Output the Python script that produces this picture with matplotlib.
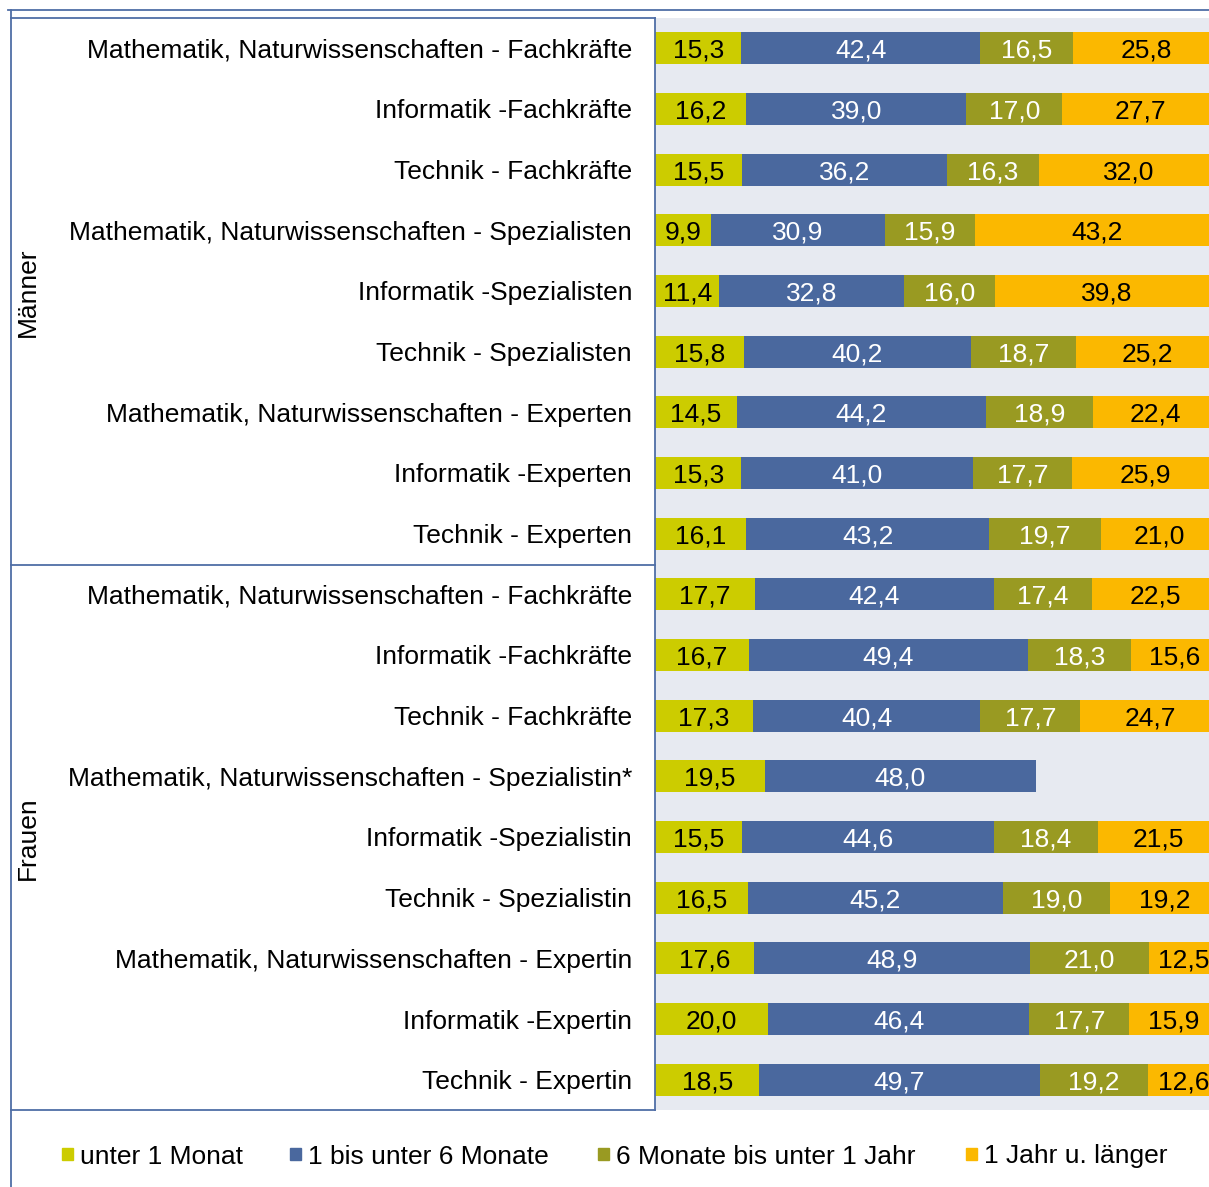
import numpy as np
import matplotlib.pyplot as plt
from matplotlib.patches import Rectangle
from matplotlib.lines import Line2D

plt.rcParams['font.family'] = ['Liberation Sans', 'DejaVu Sans']

categories = [
    "Mathematik, Naturwissenschaften - Fachkräfte",
    "Informatik -Fachkräfte",
    "Technik - Fachkräfte",
    "Mathematik, Naturwissenschaften - Spezialisten",
    "Informatik -Spezialisten",
    "Technik - Spezialisten",
    "Mathematik, Naturwissenschaften - Experten",
    "Informatik -Experten",
    "Technik - Experten",
    "Mathematik, Naturwissenschaften - Fachkräfte",
    "Informatik -Fachkräfte",
    "Technik - Fachkräfte",
    "Mathematik, Naturwissenschaften - Spezialistin*",
    "Informatik -Spezialistin",
    "Technik - Spezialistin",
    "Mathematik, Naturwissenschaften - Expertin",
    "Informatik -Expertin",
    "Technik - Expertin",
]
groups = ["Männer", "Frauen"]

unter_1_monat = [15.3, 16.2, 15.5, 9.9, 11.4, 15.8, 14.5, 15.3, 16.1,
                 17.7, 16.7, 17.3, 19.5, 15.5, 16.5, 17.6, 20.0, 18.5]
bis_6_monate = [42.4, 39.0, 36.2, 30.9, 32.8, 40.2, 44.2, 41.0, 43.2,
                42.4, 49.4, 40.4, 48.0, 44.6, 45.2, 48.9, 46.4, 49.7]
bis_1_jahr = [16.5, 17.0, 16.3, 15.9, 16.0, 18.7, 18.9, 17.7, 19.7,
              17.4, 18.3, 17.7, np.nan, 18.4, 19.0, 21.0, 17.7, 19.2]
jahr_laenger = [25.8, 27.7, 32.0, 43.2, 39.8, 25.2, 22.4, 25.9, 21.0,
                22.5, 15.6, 24.7, np.nan, 21.5, 19.2, 12.5, 15.9, 12.6]

series_names = ["unter 1 Monat", "1 bis unter 6 Monate",
                "6 Monate bis unter 1 Jahr", "1 Jahr u. länger"]
series = [unter_1_monat, bis_6_monate, bis_1_jahr, jahr_laenger]
colors = ['#CCCC00', '#4A689E', '#999A22', '#FBB800']
text_colors = ['black', 'white', 'white', 'black']

W, H = 1209, 1187
fig = plt.figure(figsize=(W / 100, H / 100), dpi=100)


def fx(px):
    return px / W


def fy(py):
    return 1 - py / H


# plot area (runs a bit past the right edge like the original)
left, top, bottom, width = 655, 18, 1110, 564
ax = fig.add_axes([fx(left), fy(bottom), width / W, (bottom - top) / H])
ax.set_facecolor('#E7EAF1')

y = np.arange(len(categories))
start = np.zeros(len(categories))
for vals, col, tcol in zip(series, colors, text_colors):
    vals = np.array(vals, dtype=float)
    ax.barh(y, np.nan_to_num(vals), left=start, height=0.53,
            color=col, edgecolor='none')
    for yi, (s, v) in enumerate(zip(start, vals)):
        if not np.isnan(v):
            ax.text(s + v / 2, yi, f"{v:.1f}".replace('.', ','),
                    ha='center', va='center_baseline', color=tcol,
                    fontsize=19, clip_on=True)
    start = start + np.nan_to_num(vals)

ax.set_xlim(0, 100)
ax.set_ylim(len(categories) - 0.5, -0.5)
ax.set_xticks([])
ax.set_yticks(y, categories)
ax.tick_params(axis='y', length=0, pad=16.5, labelsize=19)
for sp in ax.spines.values():
    sp.set_visible(False)

# frame lines
line_col = '#4F6EA6'
frame = [
    ((8, W), (10, 10)),
    ((11, 11), (10, H)),
    ((11, left), (top, top)),
    ((left, left), (top, bottom)),
    ((11, left), (bottom, bottom)),
    ((11, left), (565, 565)),
]
for xs, ys in frame:
    fig.add_artist(Line2D([fx(v) for v in xs], [fy(v) for v in ys],
                          color=line_col, lw=1.3))

# group labels
fig.text(fx(28), fy(292), groups[0], rotation=90, ha='center', va='center',
         fontsize=19)
fig.text(fx(28), fy(838), groups[1], rotation=90, ha='center', va='center',
         fontsize=19)

# legend
legend_x = [62, 290, 598, 966]
for lx, name, col in zip(legend_x, series_names, colors):
    fig.add_artist(Rectangle((fx(lx), fy(1160)), 11 / W, 12 / H,
                             color=col, transform=fig.transFigure))
    fig.text(fx(lx + 18), fy(1154), name, ha='left', va='center_baseline',
             fontsize=19)

fig.savefig('out.png', dpi=100)
